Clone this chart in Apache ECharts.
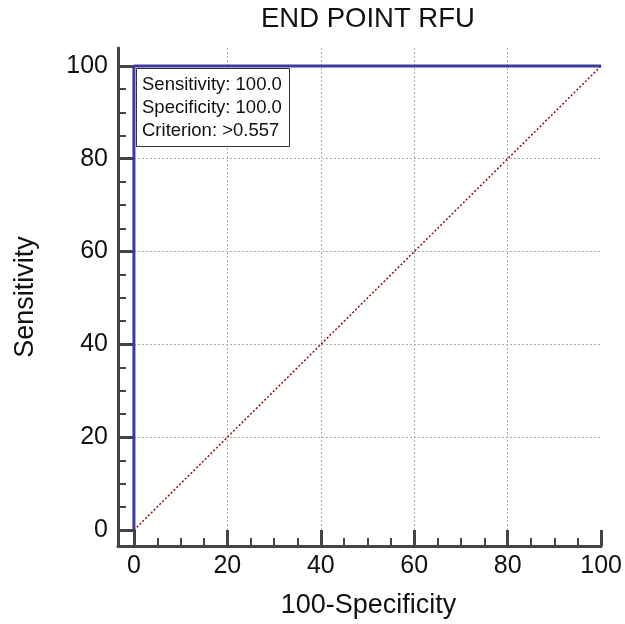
<!DOCTYPE html>
<html>
<head>
<meta charset="utf-8">
<script src="https://cdn.jsdelivr.net/npm/echarts@6/dist/echarts.min.js"></script>
<style>
  html, body { margin: 0; padding: 0; background: #fff; }
  #chart { width: 625px; height: 624px; }
</style>
</head>
<body>
<div id="chart"></div>
<script>
// ROC curve points (100-Specificity, Sensitivity)
const rocX = [0, 0, 100]
const rocY = [0, 100, 100]
// reference diagonal
const diagX = [0, 100]
const diagY = [0, 100]
// axis ticks
const majorTicks = [0, 20, 40, 60, 80, 100]
const minorTicks = [5, 10, 15, 25, 30, 35, 45, 50, 55, 65, 70, 75, 85, 90, 95]
// summary box
const sensitivity = '100.0'
const specificity = '100.0'
const criterion = '>0.557'

const fontFamily = '"Liberation Sans", Arial, sans-serif'
const axisColor = '#444'

const chart = echarts.init(document.getElementById('chart'))

// main axis with long ticks + labels, and a bare one for the short minor ticks
const makeAxes = (name, min, max, isX) => {
    const main = {
        type: 'value',
        min: min,
        max: max,
        position: isX ? 'bottom' : 'left',
        name: name,
        nameLocation: 'middle',
        nameGap: isX ? 46 : 79,
        nameTextStyle: {
            fontFamily: fontFamily,
            fontSize: 27,
            color: '#111',
            // centre the name over the plot, not over the offset axis line
            padding: isX ? [0, 0, 0, 18] : [0, 0, 0, 0]
        },
        axisLine: { onZero: false, lineStyle: { color: axisColor, width: 3 } },
        axisTick: {
            inside: true,
            length: 16,
            customValues: majorTicks,
            lineStyle: { color: axisColor, width: 3 }
        },
        axisLabel: {
            customValues: majorTicks,
            margin: isX ? 8 : 10,
            fontFamily: fontFamily,
            fontSize: 25,
            color: '#111'
        },
        splitLine: {
            show: true,
            showMinLine: false,
            showMaxLine: false,
            lineStyle: { color: '#aaa', width: 1, type: [2, 2] }
        }
    }
    const minor = {
        type: 'value',
        min: min,
        max: max,
        position: isX ? 'bottom' : 'left',
        axisLine: { show: false, onZero: false },
        axisLabel: { show: false },
        splitLine: { show: false },
        axisTick: {
            inside: true,
            length: 8,
            customValues: minorTicks,
            lineStyle: { color: axisColor, width: 2 }
        }
    }
    return [main, minor]
}

const options = {
    animation: false,
    title: [
        {
            text: 'END POINT RFU',
            left: 261,
            top: 5,
            padding: 0,
            textStyle: { fontFamily: fontFamily, fontSize: 27.5, fontWeight: 'normal', color: '#111' }
        },
        {
            text: 'Sensitivity: ' + sensitivity + '\nSpecificity: ' + specificity + '\nCriterion: ' + criterion,
            left: 136,
            top: 68,
            padding: [5, 8, 5, 6],
            backgroundColor: '#fff',
            borderColor: '#333',
            borderWidth: 1,
            z: 10,
            textStyle: { fontFamily: fontFamily, fontSize: 18.5, lineHeight: 23, fontWeight: 'normal', color: '#111' }
        }
    ],
    grid: { left: 118, right: 22, top: 48, bottom: 76 },
    xAxis: makeAxes('100-Specificity', -3.41, 100, true),
    yAxis: makeAxes('Sensitivity', -3.43, 103.86, false),
    series: [
        {
            type: 'line',
            xAxisIndex: 0,
            yAxisIndex: 0,
            data: diagX.map((x, i) => [x, diagY[i]]),
            showSymbol: false,
            symbol: 'none',
            lineStyle: { color: '#8b1010', width: 1.5, type: [2, 2] },
            z: 3
        },
        {
            type: 'line',
            xAxisIndex: 0,
            yAxisIndex: 0,
            data: rocX.map((x, i) => [x, rocY[i]]),
            showSymbol: false,
            symbol: 'none',
            lineStyle: { color: '#3b3b9b', width: 3 },
            z: 4
        }
    ]
}
chart.setOption(options)
</script>
</body>
</html>
